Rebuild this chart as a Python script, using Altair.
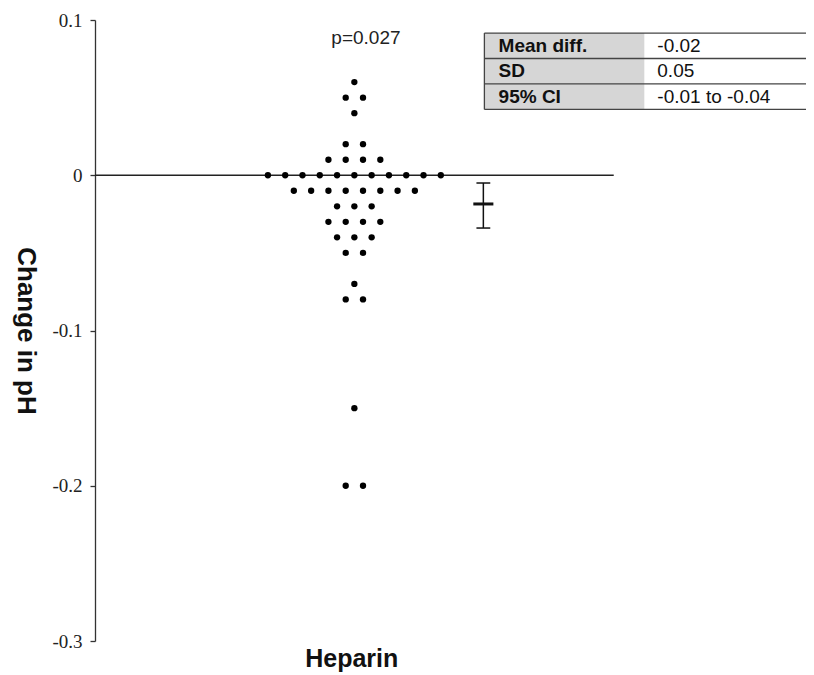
import altair as alt
import pandas as pd

# ---- data ----
change_values = [0.06, 0.05, 0.05, 0.04, 0.02, 0.02,
                 0.01, 0.01, 0.01, 0.01,
                 0.00, 0.00, 0.00, 0.00, 0.00, 0.00, 0.00, 0.00, 0.00, 0.00, 0.00,
                 -0.01, -0.01, -0.01, -0.01, -0.01, -0.01, -0.01, -0.01,
                 -0.02, -0.02, -0.02,
                 -0.03, -0.03, -0.03, -0.03,
                 -0.04, -0.04, -0.04,
                 -0.05, -0.05,
                 -0.07,
                 -0.08, -0.08,
                 -0.15,
                 -0.20, -0.20]

ci_mean = -0.0185
ci_low = -0.034
ci_high = -0.005

table_labels = ["Mean diff.", "SD", "95% CI"]
table_values = ["-0.02", "0.05", "-0.01 to -0.04"]

p_label = "p=0.027"
group_label = "Heparin"
y_title = "Change in pH"
y_ticks = [-0.3, -0.2, -0.1, 0.0, 0.1]

# ---- layout (dot-plot stacking: centred offsets within each value) ----
W, H = 711, 621
X_MIN, X_MAX = -15.0, 26.12
Y_MIN, Y_MAX = -0.3, 0.1

counts = {}
for v in change_values:
    counts[v] = counts.get(v, 0) + 1
seen = {}
rows = []
for v in change_values:
    i = seen.get(v, 0)
    seen[v] = i + 1
    rows.append({"x": i - (counts[v] - 1) / 2, "y": v})
dots = pd.DataFrame(rows)

xs = alt.Scale(domain=[X_MIN, X_MAX], nice=False, zero=False)
ys = alt.Scale(domain=[Y_MIN, Y_MAX], nice=False, zero=False)

y_axis = alt.Axis(
    values=y_ticks,
    labelExpr="datum.value == 0 ? '0' : (datum.value < 0 ? '-' : '') + format(abs(datum.value), '.1f')",
    title=y_title,
)

base_x = alt.X("x:Q", scale=xs, axis=None)

zero_df = pd.DataFrame({"x": [X_MIN], "x2": [15.0], "y": [0.0]})
zero_line = alt.Chart(zero_df).mark_rule(color="#222", strokeWidth=1.3).encode(
    x=alt.X("x:Q", scale=xs, axis=None), x2="x2:Q",
    y=alt.Y("y:Q", scale=ys, axis=y_axis),
)

points = alt.Chart(dots).mark_circle(color="black", opacity=1, size=40).encode(
    x=base_x, y=alt.Y("y:Q", scale=ys, axis=y_axis),
)

ex = 7.46
ci_df = pd.DataFrame({"x": [ex], "lo": [ci_low], "hi": [ci_high]})
ci_vert = alt.Chart(ci_df).mark_rule(color="#111", strokeWidth=1.5).encode(
    x=base_x, y=alt.Y("lo:Q", scale=ys, axis=y_axis), y2="hi:Q")
caps_df = pd.DataFrame({"x": [ex - 0.4, ex - 0.4], "x2": [ex + 0.4, ex + 0.4], "y": [ci_low, ci_high]})
caps = alt.Chart(caps_df).mark_rule(color="#111", strokeWidth=1.5).encode(
    x=base_x, x2="x2:Q", y=alt.Y("y:Q", scale=ys, axis=y_axis))
mean_df = pd.DataFrame({"x": [ex - 0.58], "x2": [ex + 0.58], "y": [ci_mean]})
mean_bar = alt.Chart(mean_df).mark_rule(color="#111", strokeWidth=3).encode(
    x=base_x, x2="x2:Q", y=alt.Y("y:Q", scale=ys, axis=y_axis))

# p value label
p_df = pd.DataFrame({"x": [0.67], "y": [0.0882], "t": [p_label]})
p_text = alt.Chart(p_df).mark_text(font="Liberation Sans", fontSize=19, color="#222",
                                   align="center", baseline="middle").encode(
    x=base_x, y=alt.Y("y:Q", scale=ys, axis=y_axis), text="t:N")

# group label below the plot
g_df = pd.DataFrame({"x": [-0.15], "t": [group_label]})
g_text = alt.Chart(g_df).mark_text(font="Liberation Sans", fontSize=25, fontWeight="bold",
                                   color="#111", align="center", baseline="alphabetic").encode(
    x=base_x, y=alt.value(H + 26), text="t:N")

# summary table (positioned in data units)
T_LEFT, T_SPLIT, T_RIGHT = 7.52, 16.77, X_MAX
T_TOP, ROW_H = 0.0916, 0.0164
n = len(table_labels)
cells = pd.DataFrame({
    "x": [T_LEFT] * n, "x2": [T_SPLIT] * n,
    "y": [T_TOP - i * ROW_H for i in range(n)],
    "y2": [T_TOP - (i + 1) * ROW_H for i in range(n)],
})
gray = alt.Chart(cells).mark_rect(color="#d6d6d6").encode(
    x=base_x, x2="x2:Q", y=alt.Y("y:Q", scale=ys, axis=y_axis), y2="y2:Q")
hlines_df = pd.DataFrame({"x": [T_LEFT] * (n + 1), "x2": [T_RIGHT] * (n + 1),
                          "y": [T_TOP - i * ROW_H for i in range(n + 1)]})
hlines = alt.Chart(hlines_df).mark_rule(color="#444", strokeWidth=1.3).encode(
    x=base_x, x2="x2:Q", y=alt.Y("y:Q", scale=ys, axis=y_axis))
vline_df = pd.DataFrame({"x": [T_LEFT], "y": [T_TOP], "y2": [T_TOP - n * ROW_H]})
vline = alt.Chart(vline_df).mark_rule(color="#444", strokeWidth=1.3).encode(
    x=base_x, y=alt.Y("y:Q", scale=ys, axis=y_axis), y2="y2:Q")
txt_df = pd.DataFrame({
    "xl": [T_LEFT + 0.82] * n, "xv": [T_SPLIT + 0.75] * n,
    "y": [T_TOP - (i + 0.5) * ROW_H for i in range(n)],
    "label": table_labels, "value": table_values,
})
t_labels = alt.Chart(txt_df).mark_text(font="Liberation Sans", fontSize=19, fontWeight="bold",
                                       color="#111", align="left", baseline="middle").encode(
    x=alt.X("xl:Q", scale=xs, axis=None), y=alt.Y("y:Q", scale=ys, axis=y_axis), text="label:N")
t_values = alt.Chart(txt_df).mark_text(font="Liberation Sans", fontSize=19,
                                       color="#111", align="left", baseline="middle").encode(
    x=alt.X("xv:Q", scale=xs, axis=None), y=alt.Y("y:Q", scale=ys, axis=y_axis), text="value:N")

chart = alt.layer(
    gray, hlines, vline, t_labels, t_values,
    zero_line, points, ci_vert, caps, mean_bar, p_text, g_text,
).properties(
    width=W, height=H,
    autosize=alt.AutoSizeParams(type="none"),
    padding={"left": 87, "top": 12, "right": 0, "bottom": 33},
    background="white",
).configure_view(stroke=None).configure_axisLeft(
    labelFont="Liberation Serif", labelFontSize=19, labelColor="#222",
    labelPadding=8, tickSize=5, tickColor="#333", domainColor="#333",
    domainWidth=1.3, tickWidth=1.3, grid=False,
    titleFont="Liberation Sans", titleFontSize=26,
    titleFontWeight="bold", titleColor="#111", titleAngle=90,
    titleX=-70, titleY=H / 2, titleAlign="center", titleBaseline="middle",
)

chart.save("out.html", embed_options={"renderer": "svg", "actions": False})
